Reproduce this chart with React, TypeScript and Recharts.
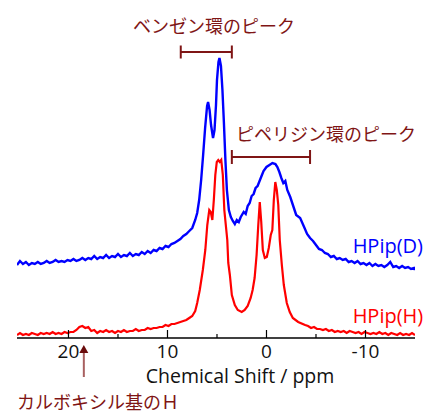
import React from 'react';
import { LineChart, Line, XAxis, YAxis, ReferenceLine, ReferenceDot } from 'recharts';

// HPip(D) スペクトル (ppm, 強度)
const blueShift = [
  25.2, 24.9, 24.6, 24.3, 24.0, 23.7, 23.4, 23.1, 22.8, 22.5, 22.2, 21.9, 21.6, 21.3, 21.0, 20.7, 20.4, 20.1, 19.8, 19.5,
  19.2, 18.9, 18.6, 18.3, 18.0, 17.7, 17.4, 17.1, 16.8, 16.5, 16.2, 15.9, 15.6, 15.3, 15.0, 14.7, 14.4, 14.1, 13.8, 13.5,
  13.2, 12.9, 12.6, 12.3, 12.0, 11.7, 11.4, 11.1, 10.8, 10.5, 10.2, 9.9, 9.6, 9.3, 9.0, 8.7, 8.4, 8.1, 7.8, 7.5,
  7.2, 7.0, 6.8, 6.6, 6.4, 6.2, 6.0, 5.9, 5.75, 5.6, 5.4, 5.25, 5.1, 5.0, 4.85, 4.75, 4.6, 4.45, 4.3, 4.15,
  4.0, 3.8, 3.6, 3.4, 3.2, 3.0, 2.8, 2.6, 2.3, 2.1, 1.9, 1.7, 1.5, 1.3, 1.1, 0.9, 0.7, 0.5, 0.3, 0.0,
  -0.3, -0.6, -0.9, -1.1, -1.3, -1.5, -1.7, -1.9, -2.1, -2.4, -2.7, -3.0, -3.4, -3.8, -4.1, -4.4, -4.7, -5.0, -5.3, -5.6,
  -5.9, -6.2, -6.5, -6.8, -7.1, -7.4, -7.7, -8.0, -8.3, -8.6, -8.9, -9.2, -9.5, -9.8, -10.1, -10.4, -10.7, -11.0, -11.3, -11.6,
  -11.9, -12.2, -12.5, -12.8, -13.1, -13.4, -13.7, -14.0, -14.3, -14.6, -14.9, -15,
];
const blueIntensity = [
  73, 77, 74, 76, 73, 75, 74, 76, 74, 75, 77, 75, 76, 78, 76, 77, 76, 78, 77, 79,
  77, 78, 80, 78, 80, 79, 82, 79, 81, 80, 83, 80, 82, 81, 84, 81, 83, 82, 85, 82,
  84, 83, 86, 84, 87, 85, 88, 87, 90, 89, 92, 91, 94, 95, 97, 99, 102, 104, 107, 110,
  118, 125, 138, 158, 183, 210, 232, 236, 228, 213, 200, 208, 233, 258, 276, 280, 272, 248, 215, 178,
  148, 128, 121, 117, 114, 118, 116, 121, 126, 124, 132, 135, 142, 144, 150, 152, 157, 162, 167, 171,
  173, 175, 174, 171, 166, 160, 155, 157, 148, 141, 132, 123, 120, 111, 104, 100, 97, 93, 89, 88,
  85, 84, 81, 82, 79, 80, 78, 79, 76, 77, 75, 77, 74, 75, 73, 75, 72, 74, 72, 73,
  71, 73, 76, 71, 72, 70, 72, 70, 71, 69, 70, 68,
];

// HPip(H) スペクトル (ppm, 強度)
const redShift = [
  25.2, 24.9, 24.6, 24.3, 24.0, 23.7, 23.4, 23.1, 22.8, 22.5, 22.2, 21.9, 21.6, 21.3, 21.0, 20.7, 20.4, 20.1, 19.8, 19.5,
  19.2, 18.9, 18.6, 18.3, 18.0, 17.7, 17.4, 17.1, 16.8, 16.5, 16.2, 15.9, 15.6, 15.3, 15.0, 14.7, 14.4, 14.1, 13.8, 13.5,
  13.2, 12.9, 12.6, 12.3, 12.0, 11.7, 11.4, 11.1, 10.8, 10.5, 10.2, 9.9, 9.6, 9.3, 9.0, 8.7, 8.4, 8.1, 7.8, 7.5,
  7.2, 7.0, 6.74, 6.43, 6.18, 5.98, 5.78, 5.63, 5.47, 5.32, 5.17, 5.02, 4.87, 4.72, 4.57, 4.41, 4.26, 4.11, 3.96, 3.86,
  3.7, 3.5, 3.2, 2.9, 2.5, 2.2, 1.9, 1.6, 1.4, 1.2, 1.0, 0.83, 0.68, 0.53, 0.37, 0.17, -0.03, -0.23, -0.43, -0.59,
  -0.74, -0.89, -1.04, -1.19, -1.34, -1.55, -1.75, -2.05, -2.35, -2.66, -3.2, -3.9, -4.2, -4.5, -4.8, -5.1, -5.4, -5.7, -6.0, -6.3,
  -6.6, -6.9, -7.2, -7.5, -7.8, -8.1, -8.4, -8.7, -9.0, -9.3, -9.6, -9.9, -10.2, -10.5, -10.8, -11.1, -11.4, -11.7, -12.0, -12.3,
  -12.6, -12.9, -13.2, -13.5, -13.8, -14.1, -14.4, -14.7, -15,
];
const redIntensity = [
  3, 5, 3, 4, 3, 5, 4, 3, 5, 4, 5, 4, 6, 4, 5, 4, 6, 5, 6, 6,
  8, 11, 12, 10, 11, 7, 8, 5, 7, 6, 8, 6, 7, 5, 7, 6, 8, 6, 7, 7,
  9, 7, 8, 8, 10, 9, 10, 10, 11, 11, 13, 12, 14, 14, 15, 16, 17, 18, 20, 22,
  27, 35, 48, 68, 88, 113, 128, 126, 118, 138, 163, 176, 178, 176, 178, 163, 128, 113, 98, 75,
  63, 43, 33, 28, 26, 28, 32, 40, 48, 60, 83, 113, 136, 116, 88, 80, 81, 90, 103, 108,
  138, 156, 148, 133, 98, 73, 53, 35, 26, 20, 16, 13, 12, 10, 11, 9, 9, 8, 9, 7,
  8, 6, 7, 6, 7, 5, 7, 6, 5, 6, 4, 6, 5, 4, 5, 4, 6, 4, 5, 3,
  5, 4, 3, 5, 3, 4, 3, 5, 3,
];

const tickValues = [20, 15, 10, 5, 0, -5, -10];
const majorTicks = [20, 10, 0, -10];

const blueData = blueShift.map((ppm, i) => ({ ppm, v: blueIntensity[i] }));
const redData = redShift.map((ppm, i) => ({ ppm, v: redIntensity[i] }));

const NOTE = '#7f1515';
const JP = '"Noto Sans CJK JP", sans-serif';
const LATIN = '"Open Sans", sans-serif';

// 目盛りは内向き、主目盛りだけ数値を出す
const ShiftTick = (props: any) => {
  const { x, y, payload } = props;
  const major = majorTicks.includes(payload.value);
  return (
    <g>
      <line x1={x} x2={x} y1={y} y2={y - (major ? 8 : 4)} stroke="#000" strokeWidth={1.2} />
      {major && (
        <text x={x} y={y + 20} textAnchor="middle" fontSize={19} fill="#111" fontFamily={LATIN}>
          {payload.value}
        </text>
      )}
    </g>
  );
};

const textShape = (label: string, fill: string, anchor: string, size: number, font: string) => (p: any) => (
  <text x={p.cx} y={p.cy} textAnchor={anchor} dominantBaseline="central" fontSize={size} fill={fill} fontFamily={font}>
    {label}
  </text>
);

const arrowHead = (p: any) => (
  <polygon points={`${p.cx},${p.cy} ${p.cx - 4.5},${p.cy + 8} ${p.cx + 4.5},${p.cy + 8}`} fill="#6a0c0c" />
);

export default function App() {
  const bracket = (from: number, to: number, y: number, h: number, key: string) => [
    <ReferenceLine key={key + 'h'} segment={[{ x: from, y }, { x: to, y }]} stroke={NOTE} strokeWidth={2} ifOverflow="visible" />,
    <ReferenceLine key={key + 'a'} segment={[{ x: from, y: y - h }, { x: from, y: y + h }]} stroke={NOTE} strokeWidth={2} ifOverflow="visible" />,
    <ReferenceLine key={key + 'b'} segment={[{ x: to, y: y - h }, { x: to, y: y + h }]} stroke={NOTE} strokeWidth={2} ifOverflow="visible" />,
  ];

  return (
    <div style={{ position: 'absolute', left: 0, top: 0, width: 427, height: 413, background: '#fff' }}>
      <LineChart width={427} height={413} margin={{ top: 0, right: 12, left: 17, bottom: 0 }}>
        <XAxis
          type="number"
          dataKey="ppm"
          domain={[-15, 25.2]}
          reversed
          allowDataOverflow
          ticks={tickValues}
          interval={0}
          tickLine={false}
          tickSize={0}
          tickMargin={0}
          height={75}
          stroke="#000"
          strokeWidth={1.5}
          tick={<ShiftTick />}
          label={{
            content: (p: any) => (
              <text
                x={p.viewBox.x + p.viewBox.width / 2 + 24}
                y={p.viewBox.y + 45}
                textAnchor="middle"
                fontSize={19.5}
                fill="#111"
                fontFamily={LATIN}
              >
                Chemical Shift / ppm
              </text>
            ),
          }}
        />
        <YAxis hide type="number" domain={[0, 338]} allowDataOverflow />
        <Line data={blueData} dataKey="v" type="linear" stroke="#0000ff" strokeWidth={2.4} dot={false} isAnimationActive={false} />
        <Line data={redData} dataKey="v" type="linear" stroke="#ff0000" strokeWidth={2.2} dot={false} isAnimationActive={false} />

        {bracket(8.66, 3.5, 286, 6.5, 'benz')}
        {bracket(3.5, -4.4, 181, 7, 'pip')}

        <ReferenceDot x={5.3} y={313} r={0} ifOverflow="visible" shape={textShape('ベンゼン環のピーク', NOTE, 'middle', 18, JP)} />
        <ReferenceDot x={-6.0} y={205} r={0} ifOverflow="visible" shape={textShape('ピペリジン環のピーク', NOTE, 'middle', 18, JP)} />
        <ReferenceDot x={-8.7} y={93} r={0} ifOverflow="visible" shape={textShape('HPip(D)', '#0000ff', 'start', 20, LATIN)} />
        <ReferenceDot x={-8.7} y={23} r={0} ifOverflow="visible" shape={textShape('HPip(H)', '#ff0000', 'start', 20, LATIN)} />

        <ReferenceLine segment={[{ x: 18.45, y: -14 }, { x: 18.45, y: -39 }]} stroke="#a86060" strokeWidth={2} ifOverflow="visible" />
        <ReferenceDot x={18.45} y={-7} r={0} ifOverflow="visible" shape={arrowHead} />
        <ReferenceDot x={25.2} y={-63} r={0} ifOverflow="visible" shape={textShape('カルボキシル基のＨ', NOTE, 'start', 18, JP)} />
      </LineChart>
    </div>
  );
}
